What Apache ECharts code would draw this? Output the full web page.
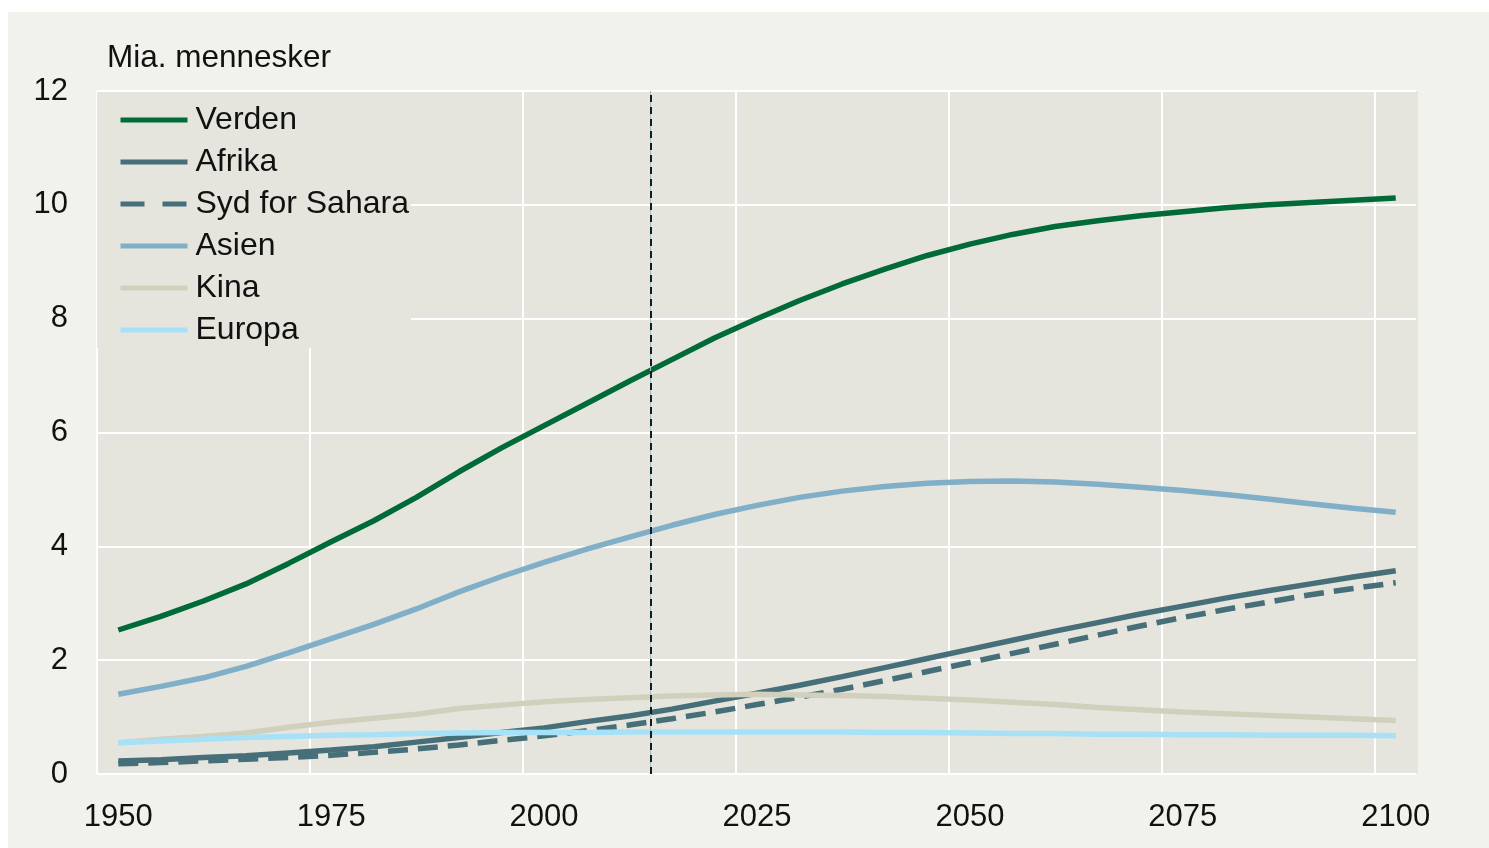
<!DOCTYPE html>
<html>
<head>
<meta charset="utf-8">
<script src="https://cdn.jsdelivr.net/npm/echarts@6/dist/echarts.min.js"></script>
<style>
  html, body { margin: 0; padding: 0; background: #ffffff; }
  #chart { position: absolute; left: 8px; top: 12px; width: 1481px; height: 836px; }
</style>
</head>
<body>
<div id="chart"></div>
<script>
// år (5-årige trin)
const years = [1950, 1955, 1960, 1965, 1970, 1975, 1980, 1985, 1990, 1995,
  2000, 2005, 2010, 2015, 2020, 2025, 2030, 2035, 2040, 2045,
  2050, 2055, 2060, 2065, 2070, 2075, 2080, 2085, 2090, 2095, 2100]

// mia. mennesker
const verden = [2.53, 2.77, 3.04, 3.34, 3.70, 4.08, 4.45, 4.86, 5.31, 5.73,
  6.12, 6.51, 6.90, 7.28, 7.66, 8.00, 8.32, 8.61, 8.87, 9.11,
  9.31, 9.48, 9.62, 9.72, 9.81, 9.88, 9.95, 10.00, 10.04, 10.08, 10.12]
const afrika = [0.23, 0.25, 0.29, 0.32, 0.37, 0.42, 0.48, 0.56, 0.64, 0.73,
  0.81, 0.92, 1.02, 1.14, 1.28, 1.42, 1.56, 1.71, 1.87, 2.03,
  2.19, 2.35, 2.51, 2.66, 2.81, 2.95, 3.09, 3.22, 3.34, 3.46, 3.57]
const sydForSahara = [0.18, 0.20, 0.23, 0.26, 0.29, 0.33, 0.38, 0.44, 0.51, 0.59,
  0.67, 0.76, 0.86, 0.97, 1.09, 1.22, 1.35, 1.49, 1.64, 1.80,
  1.96, 2.12, 2.28, 2.44, 2.60, 2.75, 2.89, 3.02, 3.15, 3.26, 3.36]
const asien = [1.40, 1.54, 1.69, 1.89, 2.13, 2.38, 2.63, 2.90, 3.20, 3.47,
  3.72, 3.95, 4.16, 4.37, 4.56, 4.72, 4.86, 4.97, 5.05, 5.11,
  5.14, 5.15, 5.13, 5.09, 5.04, 4.98, 4.91, 4.83, 4.75, 4.67, 4.60]
const kina = [0.55, 0.61, 0.66, 0.72, 0.82, 0.91, 0.98, 1.05, 1.15, 1.21,
  1.27, 1.31, 1.34, 1.37, 1.39, 1.40, 1.39, 1.38, 1.36, 1.33,
  1.30, 1.26, 1.22, 1.17, 1.13, 1.09, 1.06, 1.03, 1.00, 0.97, 0.94]
const europa = [0.55, 0.58, 0.61, 0.64, 0.66, 0.68, 0.69, 0.71, 0.72, 0.73,
  0.73, 0.73, 0.74, 0.74, 0.74, 0.74, 0.74, 0.74, 0.73, 0.73,
  0.72, 0.71, 0.71, 0.70, 0.70, 0.69, 0.69, 0.68, 0.68, 0.68, 0.67]

const yTicks = [0, 2, 4, 6, 8, 10, 12]
const xLabels = [1950, 1975, 2000, 2025, 2050, 2075, 2100]
const skillelinje = 2012.5

const fontFam = '"Liberation Sans", Arial, sans-serif'
const plotBg = '#e5e5dd'

function pairs(vals) {
  return years.map((y, i) => [y, vals[i]])
}

function line(name, vals, color, dashed) {
  return {
    name: name,
    type: 'line',
    xAxisIndex: 0,
    data: pairs(vals),
    symbol: 'none',
    smooth: false,
    lineStyle: { color: color, width: 5.5, type: dashed ? [20, 10] : 'solid' },
    itemStyle: { color: color },
    animation: false
  }
}

const chart = echarts.init(document.getElementById('chart'))

const series = [
  line('Verden', verden, '#006a38'),
  line('Afrika', afrika, '#466f7a'),
  line('Syd for Sahara', sydForSahara, '#466f7a', true),
  line('Asien', asien, '#80afc7'),
  line('Kina', kina, '#d0d0bd'),
  line('Europa', europa, '#a6e1f7')
]
series[0].markLine = {
  silent: true,
  symbol: 'none',
  label: { show: false },
  animation: false,
  data: [
    { xAxis: skillelinje, lineStyle: { color: '#9fbfc6', width: 1, type: 'solid' } },
    { xAxis: skillelinje, lineStyle: { color: '#1a1a1a', width: 2, type: [7, 5] } }
  ]
}

chart.setOption({
  backgroundColor: '#f2f2ed',
  textStyle: { fontFamily: fontFam },
  title: {
    text: 'Mia. mennesker',
    left: 99,
    top: 30,
    padding: 0,
    textStyle: { fontFamily: fontFam, fontSize: 31.5, fontWeight: 'normal', color: '#111' }
  },
  grid: {
    left: 89, right: 72, top: 79, bottom: 74,
    show: true, backgroundColor: plotBg, borderWidth: 0
  },
  legend: {
    orient: 'vertical',
    left: 89,
    top: 80,
    padding: [12, 2, 2, 21],
    backgroundColor: plotBg,
    itemWidth: 67,
    itemHeight: 14,
    itemGap: 10,
    selectedMode: false,
    itemStyle: { opacity: 0 },
    lineStyle: { width: 5 },
    textStyle: { fontFamily: fontFam, fontSize: 32, color: '#111', padding: [0, 0, 0, 3] },
    data: [
      'Verden', 'Afrika',
      { name: 'Syd for Sahara', lineStyle: { type: [24, 18], width: 5 } },
      'Asien', 'Kina', 'Europa'
    ]
  },
  xAxis: [
    {
      type: 'value',
      min: 1947.5,
      max: 2102.5,
      interval: 2.5,
      axisLine: { show: false },
      axisTick: { show: false },
      splitLine: { show: false },
      axisLabel: {
        margin: 28,
        fontSize: 31,
        color: '#111',
        fontFamily: fontFam,
        formatter: v => (xLabels.indexOf(v) >= 0 ? String(v) : '')
      }
    },
    {
      // hjælpeakse kun for de lodrette gitterlinjer (mellem årstallene)
      type: 'value',
      min: 0,
      max: 155,
      interval: 25,
      axisLine: { show: false },
      axisTick: { show: false },
      axisLabel: { show: false },
      splitLine: {
        show: true,
        lineStyle: { color: ['#ffffff', '#ffffff', '#ffffff', '#ffffff', '#ffffff', '#ffffff', '#ffffff', plotBg], width: 2 }
      }
    }
  ],
  yAxis: {
    type: 'value',
    min: yTicks[0],
    max: yTicks[yTicks.length - 1],
    interval: 2,
    axisLine: { show: false },
    axisTick: { show: false },
    splitLine: { show: true, lineStyle: { color: '#ffffff', width: 2 } },
    axisLabel: { margin: 29, fontSize: 31, color: '#111', fontFamily: fontFam }
  },
  series: series
})
</script>
</body>
</html>
